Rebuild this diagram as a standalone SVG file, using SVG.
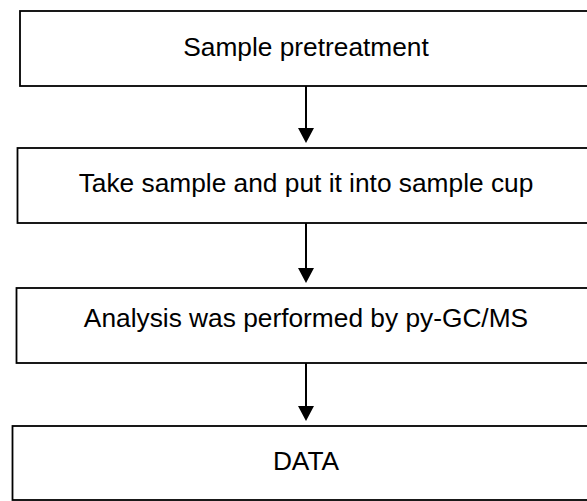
<svg xmlns="http://www.w3.org/2000/svg" width="587" height="501" viewBox="0 0 587 501">
<defs>
<style>
.box{fill:#fff;stroke:#000;stroke-width:1.8}
.lbl{font-family:"Liberation Sans",Arial,sans-serif;font-size:26.3px;fill:#000;text-anchor:middle}
.shaft{stroke:#000;stroke-width:2;fill:none}
.head{fill:#000}
</style>
</defs>
<rect width="587" height="501" fill="#fff"/>
<g id="node1"><rect class="box" x="20" y="11" width="575" height="75"/><text class="lbl" x="306" y="56">Sample pretreatment</text></g>
<g id="node2"><rect class="box" x="17.5" y="148" width="580" height="75"/><text class="lbl" x="306" y="192">Take sample and put it into sample cup</text></g>
<g id="node3"><rect class="box" x="16.5" y="288" width="580" height="75"/><text class="lbl" x="306" y="327">Analysis was performed by py-GC/MS</text></g>
<g id="node4"><rect class="box" x="12.5" y="426" width="590" height="74"/><text class="lbl" x="306" y="469.5">DATA</text></g>
<g id="connectors">
<line class="shaft" x1="306" y1="86" x2="306" y2="130"/><polygon class="head" points="298,128 314,128 306,143"/>
<line class="shaft" x1="306" y1="223" x2="306" y2="270"/><polygon class="head" points="298,268 314,268 306,283"/>
<line class="shaft" x1="306" y1="363" x2="306" y2="408"/><polygon class="head" points="298,406 314,406 306,421"/>
</g>
</svg>
